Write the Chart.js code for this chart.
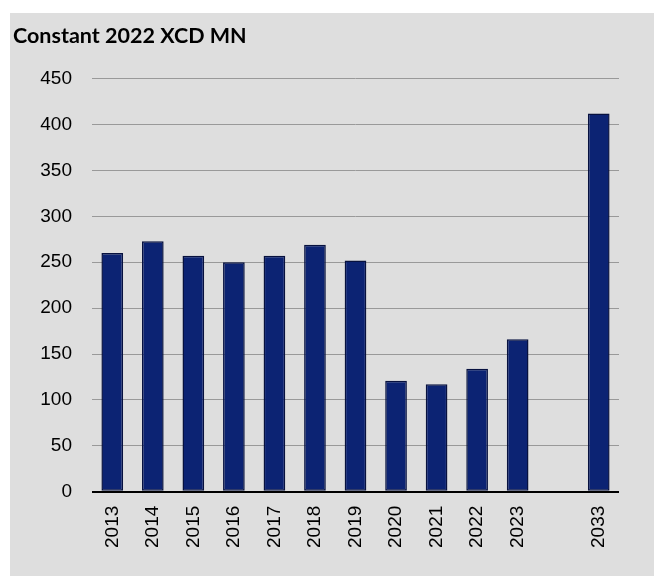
<!DOCTYPE html>
<html lang="en">
<head>
    <meta charset="UTF-8">
    <title>Constant 2022 XCD MN</title>
    <script src="https://cdn.jsdelivr.net/npm/chart.js"></script>
    <style>
        html, body {
            margin: 0;
            padding: 0;
            background: #ffffff;
            overflow: hidden;
        }
        .panel {
            position: absolute;
            left: 10px;
            top: 13px;
            width: 644px;
            height: 563px;
            background: #dedede;
        }
    </style>
</head>
<body>
    <div class="panel">
        <canvas id="chart" width="644" height="563"></canvas>
    </div>

    <script>
    // categories (blank slot between 2023 and 2033)
    const years = ['2013', '2014', '2015', '2016', '2017', '2018', '2019', '2020', '2021', '2022', '2023', '', '2033'];
    const values = [260, 273, 257, 250, 257, 269, 252, 121, 117, 134, 166, null, 412];
    const yTicks = [0, 50, 100, 150, 200, 250, 300, 350, 400, 450];

    const ctx = document.getElementById('chart').getContext('2d');
    new Chart(ctx, {
        type: 'bar',
        data: {
            labels: years,
            datasets: [{
                label: 'Constant 2022 XCD MN',
                data: values,
                backgroundColor: '#0c2373',
                borderColor: '#07113f',
                borderWidth: 1.5,
                borderSkipped: false,
                categoryPercentage: 1,
                barPercentage: 0.535
            }]
        },
        options: {
            responsive: false,
            animation: false,
            layout: {
                padding: { left: 3, right: 35, top: 0, bottom: 0 }
            },
            plugins: {
                legend: { display: false },
                tooltip: { enabled: false },
                title: {
                    display: true,
                    text: 'Constant 2022 XCD MN',
                    align: 'start',
                    color: '#000000',
                    font: { family: 'Lato', size: 21.5, weight: 'bold' },
                    padding: { top: 10, bottom: 29.9 }
                }
            },
            scales: {
                x: {
                    grid: { display: false, drawTicks: false },
                    border: { display: false },
                    ticks: {
                        color: '#000000',
                        font: { family: 'Liberation Sans', size: 19 },
                        minRotation: 90,
                        maxRotation: 90,
                        padding: 14,
                        autoSkip: false
                    },
                    afterFit: (scale) => { scale.height = 84.3; }
                },
                y: {
                    min: 0,
                    max: 450,
                    afterBuildTicks: (scale) => {
                        scale.ticks = yTicks.map(v => ({ value: v }));
                    },
                    grid: {
                        drawTicks: false,
                        color: (c) => c.tick && c.tick.value === 0 ? '#000000' : '#999999',
                        lineWidth: (c) => c.tick && c.tick.value === 0 ? 2 : 1
                    },
                    border: { display: false },
                    ticks: {
                        color: '#000000',
                        font: { family: 'Liberation Sans', size: 19 },
                        padding: 20
                    },
                    afterFit: (scale) => { scale.width = 79; }
                }
            }
        }
    });
    </script>
</body>
</html>
